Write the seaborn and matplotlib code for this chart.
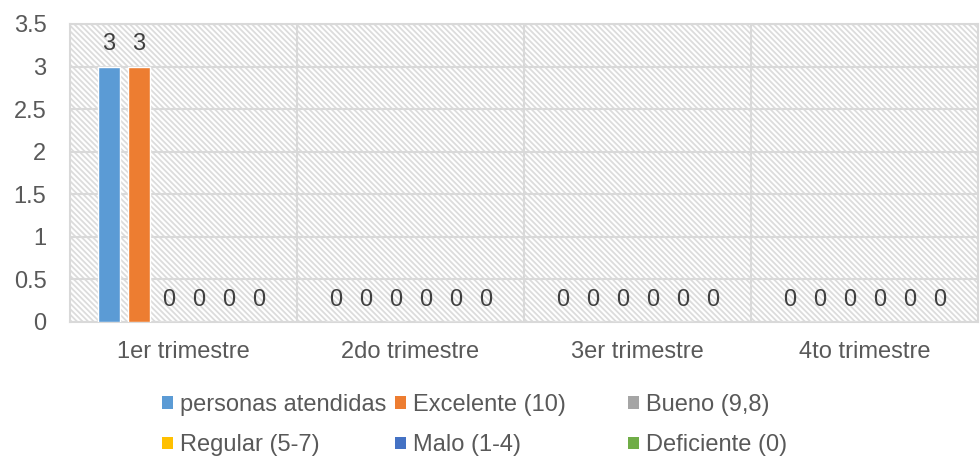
import matplotlib
matplotlib.use("Agg")
import numpy as np
import pandas as pd
import seaborn as sns
import matplotlib.pyplot as plt
from matplotlib.patches import Patch, Rectangle
from matplotlib.ticker import FuncFormatter, FixedLocator

# ---- data ----
trimestres = ["1er trimestre", "2do trimestre", "3er trimestre", "4to trimestre"]
series = ["personas atendidas", "Excelente (10)", "Bueno (9,8)",
          "Regular (5-7)", "Malo (1-4)", "Deficiente (0)"]
personas_atendidas = [3, 0, 0, 0]
excelente = [3, 0, 0, 0]
bueno = [0, 0, 0, 0]
regular = [0, 0, 0, 0]
malo = [0, 0, 0, 0]
deficiente = [0, 0, 0, 0]
colores = ["#5B9BD5", "#ED7D31", "#A5A5A5", "#FFC000", "#4472C4", "#70AD47"]
yticks = [0, 0.5, 1, 1.5, 2, 2.5, 3, 3.5]

valores = [personas_atendidas, excelente, bueno, regular, malo, deficiente]
rows = []
for s, vals in zip(series, valores):
    for t, v in zip(trimestres, vals):
        rows.append({"trimestre": t, "serie": s, "valor": v})
df = pd.DataFrame(rows)

sns.set_style("white")
plt.rcParams["font.family"] = ["Liberation Sans", "DejaVu Sans"]
plt.rcParams["hatch.linewidth"] = 1.3

FS = 17
GRID = "#D9D9D9"
TXT = "#595959"

fig = plt.figure(figsize=(9.8, 4.76), dpi=100)
ax = fig.add_axes([70 / 980, 1 - 322 / 476, 908 / 980, 298 / 476])

# hatched background
bg = Rectangle((0, 0), 1, 1, transform=ax.transAxes, facecolor="white",
               edgecolor="#DCDCDC", hatch="\\\\\\\\\\\\", lw=0, zorder=0)
ax.add_patch(bg)
ax.patch.set_visible(False)

sns.barplot(data=df, x="trimestre", y="valor", hue="serie", hue_order=series,
            order=trimestres, palette=colores, width=0.79, gap=0.27,
            saturation=1, errorbar=None, legend=False, ax=ax, zorder=3)

for cont in ax.containers:
    ax.bar_label(cont, fmt="%g", padding=8, fontsize=FS, color="#404040")

ax.set_ylim(0, 3.5)
ax.set_xlim(-0.5, 3.5)
ax.yaxis.set_major_locator(FixedLocator(yticks))
ax.yaxis.set_major_formatter(FuncFormatter(lambda v, p: f"{v:g}"))
ax.set_xlabel("")
ax.set_ylabel("")
ax.grid(axis="y", color=GRID, lw=1.5, zorder=1)
ax.set_axisbelow(True)
for xb in [0.5, 1.5, 2.5]:
    ax.axvline(xb, color=GRID, lw=1.5, zorder=1)
for sp in ax.spines.values():
    sp.set_visible(True)
    sp.set_color(GRID)
    sp.set_linewidth(1.5)
ax.tick_params(axis="both", length=0, labelsize=FS, colors=TXT)
ax.tick_params(axis="y", pad=17)
ax.tick_params(axis="x", pad=14)

# legend: three columns, two rows (row-wise order)
col_x = [162, 395, 628]
for c in range(3):
    idx = [c, c + 3]
    handles = [Patch(facecolor=colores[i], edgecolor="none") for i in idx]
    labels = [series[i] for i in idx]
    leg = fig.legend(handles, labels, loc="upper left",
                     bbox_to_anchor=(col_x[c] / 980, 1 - 394 / 476),
                     frameon=False, fontsize=FS, borderpad=0, borderaxespad=0,
                     handlelength=0.45, handleheight=0.45, handletextpad=0.3,
                     labelspacing=0.78, labelcolor=TXT)

fig.savefig("out.png", dpi=100)
